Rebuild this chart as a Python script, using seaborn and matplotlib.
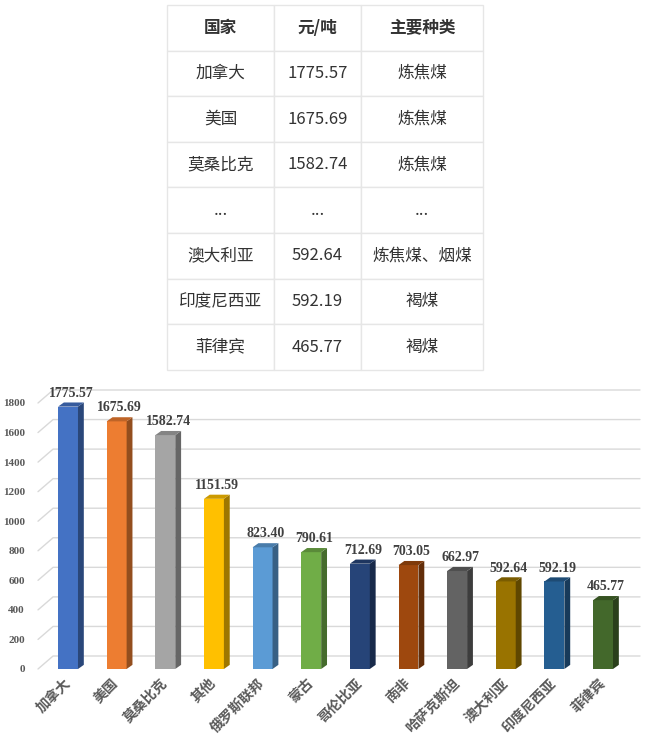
import numpy as np
import pandas as pd
import matplotlib
matplotlib.use("Agg")
import matplotlib.pyplot as plt
import matplotlib.colors as mcolors
import matplotlib.transforms as mtransforms
import seaborn as sns

# ---------------- data ----------------
countries = ['加拿大', '美国', '莫桑比克', '其他', '俄罗斯联邦', '蒙古',
             '哥伦比亚', '南非', '哈萨克斯坦', '澳大利亚', '印度尼西亚', '菲律宾']
prices = [1775.57, 1675.69, 1582.74, 1151.59, 823.40, 790.61,
          712.69, 703.05, 662.97, 592.64, 592.19, 465.77]
bar_colors = ['#4472C4', '#ED7D31', '#A5A5A5', '#FFC000', '#5B9BD5', '#70AD47',
              '#264478', '#9E480E', '#636363', '#997300', '#255E91', '#43682B']

table_header = ['国家', '元/吨', '主要种类']
table_country = ['加拿大', '美国', '莫桑比克', '...', '澳大利亚', '印度尼西亚', '菲律宾']
table_price = ['1775.57', '1675.69', '1582.74', '...', '592.64', '592.19', '465.77']
table_type = ['炼焦煤', '炼焦煤', '炼焦煤', '...', '炼焦煤、烟煤', '褐煤', '褐煤']

y_ticks = [0, 200, 400, 600, 800, 1000, 1200, 1400, 1600, 1800]

sns.set_theme(style="white")
plt.rcParams['font.family'] = ['Noto Sans CJK SC', 'DejaVu Sans']

W, H = 645, 738
fig = plt.figure(figsize=(W / 100, H / 100), dpi=100)

# ---------------- table ----------------
tax = fig.add_axes([0, 0, 1, 1])
tax.axis('off')
cell_text = [[c, p, t] for c, p, t in zip(table_country, table_price, table_type)]
x0, x1 = 167, 483
y0, y1 = 5, 370
tbl = tax.table(cellText=cell_text, colLabels=table_header,
                colWidths=[107, 87, 122], cellLoc='center',
                bbox=[x0 / W, 1 - y1 / H, (x1 - x0) / W, (y1 - y0) / H])
tbl.auto_set_font_size(False)
for (r, c), cell in tbl.get_celld().items():
    cell.set_edgecolor('#e6e6e6')
    cell.set_linewidth(1.0)
    cell.set_facecolor('white')
    txt = cell.get_text()
    txt.set_fontsize(12)
    txt.set_color('#333333')
    txt.set_fontfamily(['Noto Sans CJK SC', 'DejaVu Sans'])
    if r == 0:
        txt.set_fontweight('bold')

# ---------------- bar chart ----------------
left_px, right_px, bot_px, top_px = 38, 640, 672, 380
ax = fig.add_axes([left_px / W, 1 - bot_px / H, (right_px - left_px) / W, (bot_px - top_px) / H])

df = pd.DataFrame({'country': countries, 'price': prices})
sns.barplot(data=df, x='country', y='price', hue='country', order=countries,
            palette=bar_colors, legend=False, width=0.41, saturation=1,
            linewidth=0, ax=ax, zorder=3)

unit_px = 266 / 1800.0
ax.set_ylim(-(bot_px - 669) / unit_px, (669 - top_px) / unit_px)
xl, xr = -0.617, 11.76
ax.set_xlim(xl, xr)

# 3D-ish back-wall gridlines
g_dx, g_dy = 0.31, 88
for v in y_ticks:
    ax.plot([xl, xl + g_dx, xr], [v, v + g_dy, v + g_dy], color='#d9d9d9',
            lw=1.0, zorder=1, clip_on=False)

# 3D faces of bars
b_dx, b_dy = 0.12, 28
for patch, col in zip(ax.patches, bar_colors):
    x = patch.get_x()
    w = patch.get_width()
    h = patch.get_height()
    rgb = np.array(mcolors.to_rgb(col))
    side = rgb * 0.62
    top = rgb * 0.8
    ax.fill([x + w, x + w + b_dx, x + w + b_dx, x + w],
            [0, b_dy, h + b_dy, h], color=side, lw=0, zorder=3)
    ax.fill([x, x + b_dx, x + w + b_dx, x + w],
            [h, h + b_dy, h + b_dy, h], color=top, lw=0, zorder=3)
    ax.annotate(f'{h:.2f}', (x + (w + b_dx) / 2, h + b_dy), xytext=(0, 2),
                textcoords='offset points', ha='center', va='bottom',
                fontsize=10, fontweight='bold', color='#404040',
                family=['Liberation Serif', 'DejaVu Serif'], zorder=4)

for s in ax.spines.values():
    s.set_visible(False)
ax.set_xlabel('')
ax.set_ylabel('')
ax.set_yticks(y_ticks)
ax.set_yticklabels([str(v) for v in y_ticks])
ax.tick_params(axis='y', length=0, pad=9.5, labelsize=8, labelcolor='#595959')
for lab in ax.get_yticklabels():
    lab.set_fontweight('bold')
    lab.set_fontfamily(['Liberation Serif', 'DejaVu Serif'])
ax.tick_params(axis='x', length=0, pad=3)
ax.set_xticks(range(len(countries)))
ax.set_xticklabels(countries, rotation=45, ha='right', rotation_mode='anchor',
                   fontsize=10, fontweight='bold', color='#595959')
shift = mtransforms.ScaledTranslation(-5 / 100, 0, fig.dpi_scale_trans)
for lab in ax.get_xticklabels():
    lab.set_transform(lab.get_transform() + shift)
ax.grid(False)

fig.savefig('out.png', dpi=100)
